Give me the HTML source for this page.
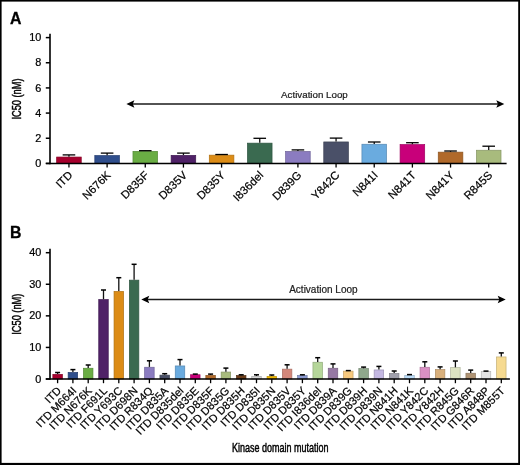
<!DOCTYPE html>
<html><head><meta charset="utf-8"><style>
html,body{margin:0;padding:0;background:#fff;}
svg{display:block;font-family:"Liberation Sans", sans-serif;will-change:transform;}
text{stroke:#000;stroke-width:0.22px;}
text.al{stroke:#222;}
text.t{stroke-width:0.45px;}
text.nb{stroke-width:0.3px;}
</style></head><body>
<svg width="520" height="465" viewBox="0 0 520 465">
<rect x="0" y="0" width="520" height="1.6" fill="#000"/><rect x="0" y="0" width="1.6" height="465" fill="#000"/><rect x="518.2" y="0" width="1.8" height="465" fill="#000"/><rect x="0" y="462.9" width="520" height="2.1" fill="#000"/>
<rect x="56.65" y="157.05" width="24.6" height="6.35" fill="#a6002d" stroke="#840024" stroke-width="0.7"/>
<line x1="68.95" y1="154.9" x2="68.95" y2="156.7" stroke="#111" stroke-width="1.3"/>
<line x1="62.65" y1="154.9" x2="75.25" y2="154.9" stroke="#000" stroke-width="1.3"/>
<line x1="68.95" y1="163.4" x2="68.95" y2="167.6" stroke="#000" stroke-width="1.3"/>
<text transform="translate(73.25,175.8) rotate(-45)" text-anchor="end" font-size="11.3">ITD</text>
<rect x="94.81" y="155.55" width="24.6" height="7.85" fill="#2f4e8c" stroke="#253e70" stroke-width="0.7"/>
<line x1="107.11" y1="153.1" x2="107.11" y2="155.2" stroke="#111" stroke-width="1.3"/>
<line x1="100.81" y1="153.1" x2="113.41" y2="153.1" stroke="#000" stroke-width="1.3"/>
<line x1="107.11" y1="163.4" x2="107.11" y2="167.6" stroke="#000" stroke-width="1.3"/>
<text transform="translate(111.41,175.8) rotate(-45)" text-anchor="end" font-size="11.3">N676K</text>
<rect x="132.97" y="151.35" width="24.6" height="12.05" fill="#6aad44" stroke="#548a36" stroke-width="0.7"/>
<line x1="145.27" y1="150.7" x2="145.27" y2="151" stroke="#111" stroke-width="1.3"/>
<line x1="138.97" y1="150.7" x2="151.57" y2="150.7" stroke="#000" stroke-width="1.3"/>
<line x1="145.27" y1="163.4" x2="145.27" y2="167.6" stroke="#000" stroke-width="1.3"/>
<text transform="translate(149.57,175.8) rotate(-45)" text-anchor="end" font-size="11.3">D835F</text>
<rect x="171.13" y="155.35" width="24.6" height="8.05" fill="#4f2167" stroke="#3f1a52" stroke-width="0.7"/>
<line x1="183.43" y1="153.1" x2="183.43" y2="155" stroke="#111" stroke-width="1.3"/>
<line x1="177.13" y1="153.1" x2="189.73" y2="153.1" stroke="#000" stroke-width="1.3"/>
<line x1="183.43" y1="163.4" x2="183.43" y2="167.6" stroke="#000" stroke-width="1.3"/>
<text transform="translate(187.73,175.8) rotate(-45)" text-anchor="end" font-size="11.3">D835V</text>
<rect x="209.29" y="155.15" width="24.6" height="8.25" fill="#dc8c16" stroke="#b07011" stroke-width="0.7"/>
<line x1="221.59" y1="154.5" x2="221.59" y2="154.8" stroke="#111" stroke-width="1.3"/>
<line x1="215.29" y1="154.5" x2="227.89" y2="154.5" stroke="#000" stroke-width="1.3"/>
<line x1="221.59" y1="163.4" x2="221.59" y2="167.6" stroke="#000" stroke-width="1.3"/>
<text transform="translate(225.89,175.8) rotate(-45)" text-anchor="end" font-size="11.3">D835Y</text>
<rect x="247.45" y="143.15" width="24.6" height="20.25" fill="#3a6a50" stroke="#2e5440" stroke-width="0.7"/>
<line x1="259.75" y1="138.3" x2="259.75" y2="142.8" stroke="#111" stroke-width="1.3"/>
<line x1="253.45" y1="138.3" x2="266.05" y2="138.3" stroke="#000" stroke-width="1.3"/>
<line x1="259.75" y1="163.4" x2="259.75" y2="167.6" stroke="#000" stroke-width="1.3"/>
<text transform="translate(264.05,175.8) rotate(-45)" text-anchor="end" font-size="11.3">I836del</text>
<rect x="285.61" y="151.45" width="24.6" height="11.95" fill="#8b7cc0" stroke="#6f6399" stroke-width="0.7"/>
<line x1="297.91" y1="149.9" x2="297.91" y2="151.1" stroke="#111" stroke-width="1.3"/>
<line x1="291.61" y1="149.9" x2="304.21" y2="149.9" stroke="#000" stroke-width="1.3"/>
<line x1="297.91" y1="163.4" x2="297.91" y2="167.6" stroke="#000" stroke-width="1.3"/>
<text transform="translate(302.21,175.8) rotate(-45)" text-anchor="end" font-size="11.3">D839G</text>
<rect x="323.77" y="141.95" width="24.6" height="21.45" fill="#4a5068" stroke="#3b4053" stroke-width="0.7"/>
<line x1="336.07" y1="138.1" x2="336.07" y2="141.6" stroke="#111" stroke-width="1.3"/>
<line x1="329.77" y1="138.1" x2="342.37" y2="138.1" stroke="#000" stroke-width="1.3"/>
<line x1="336.07" y1="163.4" x2="336.07" y2="167.6" stroke="#000" stroke-width="1.3"/>
<text transform="translate(340.37,175.8) rotate(-45)" text-anchor="end" font-size="11.3">Y842C</text>
<rect x="361.93" y="144.25" width="24.6" height="19.15" fill="#6aabdf" stroke="#5488b2" stroke-width="0.7"/>
<line x1="374.23" y1="142" x2="374.23" y2="143.9" stroke="#111" stroke-width="1.3"/>
<line x1="367.93" y1="142" x2="380.53" y2="142" stroke="#000" stroke-width="1.3"/>
<line x1="374.23" y1="163.4" x2="374.23" y2="167.6" stroke="#000" stroke-width="1.3"/>
<text transform="translate(378.53,175.8) rotate(-45)" text-anchor="end" font-size="11.3">N841I</text>
<rect x="400.09" y="144.55" width="24.6" height="18.85" fill="#c8007a" stroke="#a00061" stroke-width="0.7"/>
<line x1="412.39" y1="142.7" x2="412.39" y2="144.2" stroke="#111" stroke-width="1.3"/>
<line x1="406.09" y1="142.7" x2="418.69" y2="142.7" stroke="#000" stroke-width="1.3"/>
<line x1="412.39" y1="163.4" x2="412.39" y2="167.6" stroke="#000" stroke-width="1.3"/>
<text transform="translate(416.69,175.8) rotate(-45)" text-anchor="end" font-size="11.3">N841T</text>
<rect x="438.25" y="152.15" width="24.6" height="11.25" fill="#b0692a" stroke="#8c5421" stroke-width="0.7"/>
<line x1="450.55" y1="151" x2="450.55" y2="151.8" stroke="#111" stroke-width="1.3"/>
<line x1="444.25" y1="151" x2="456.85" y2="151" stroke="#000" stroke-width="1.3"/>
<line x1="450.55" y1="163.4" x2="450.55" y2="167.6" stroke="#000" stroke-width="1.3"/>
<text transform="translate(454.85,175.8) rotate(-45)" text-anchor="end" font-size="11.3">N841Y</text>
<rect x="476.41" y="150.25" width="24.6" height="13.15" fill="#a8bb7d" stroke="#869564" stroke-width="0.7"/>
<line x1="488.71" y1="146.2" x2="488.71" y2="149.9" stroke="#111" stroke-width="1.3"/>
<line x1="482.41" y1="146.2" x2="495.01" y2="146.2" stroke="#000" stroke-width="1.3"/>
<line x1="488.71" y1="163.4" x2="488.71" y2="167.6" stroke="#000" stroke-width="1.3"/>
<text transform="translate(493.01,175.8) rotate(-45)" text-anchor="end" font-size="11.3">R845S</text>
<line x1="50" y1="33.7" x2="50" y2="164.2" stroke="#000" stroke-width="1.6"/>
<line x1="45.8" y1="163.4" x2="506.6" y2="163.4" stroke="#000" stroke-width="1.5"/>
<line x1="45.8" y1="163.4" x2="50" y2="163.4" stroke="#000" stroke-width="1.5"/>
<text transform="translate(41.3,167) scale(1.09,1)" text-anchor="end" font-size="10">0</text>
<line x1="45.8" y1="138.24" x2="50" y2="138.24" stroke="#000" stroke-width="1.5"/>
<text transform="translate(41.3,141.84) scale(1.09,1)" text-anchor="end" font-size="10">2</text>
<line x1="45.8" y1="113.08" x2="50" y2="113.08" stroke="#000" stroke-width="1.5"/>
<text transform="translate(41.3,116.68) scale(1.09,1)" text-anchor="end" font-size="10">4</text>
<line x1="45.8" y1="87.92" x2="50" y2="87.92" stroke="#000" stroke-width="1.5"/>
<text transform="translate(41.3,91.52) scale(1.09,1)" text-anchor="end" font-size="10">6</text>
<line x1="45.8" y1="62.76" x2="50" y2="62.76" stroke="#000" stroke-width="1.5"/>
<text transform="translate(41.3,66.36) scale(1.09,1)" text-anchor="end" font-size="10">8</text>
<line x1="45.8" y1="37.6" x2="50" y2="37.6" stroke="#000" stroke-width="1.5"/>
<text transform="translate(41.3,41.2) scale(1.09,1)" text-anchor="end" font-size="10">10</text>
<text transform="translate(9.9,23.5) scale(0.96,1)" font-size="16.5" font-weight="bold" class="nb">A</text>
<text transform="translate(21.3,99) rotate(-90) scale(0.77,1)" text-anchor="middle" font-size="12" class="t">IC50 (nM)</text>
<line x1="129.4" y1="104" x2="501.3" y2="104" stroke="#1a1a1a" stroke-width="1.4"/>
<path d="M126.4,104 L134.4,100.2 L132.8,104 L134.4,107.8 Z" fill="#000"/>
<path d="M504.3,104 L496.3,100.2 L497.9,104 L496.3,107.8 Z" fill="#000"/>
<text x="281.1" y="97.5" font-size="9.75" fill="#222" class="al">Activation Loop</text>
<rect x="52.85" y="374.35" width="9.5" height="4.65" fill="#a6002d" stroke="#840024" stroke-width="0.7"/>
<line x1="57.6" y1="372.5" x2="57.6" y2="374" stroke="#111" stroke-width="1.3"/>
<line x1="55.1" y1="372.5" x2="60.1" y2="372.5" stroke="#000" stroke-width="1.5"/>
<line x1="57.6" y1="379" x2="57.6" y2="383.2" stroke="#000" stroke-width="1.3"/>
<text transform="translate(61.9,391.4) rotate(-45)" text-anchor="end" font-size="11.1">ITD</text>
<rect x="68.15" y="372.45" width="9.5" height="6.55" fill="#2f4e8c" stroke="#253e70" stroke-width="0.7"/>
<line x1="72.9" y1="369.6" x2="72.9" y2="372.1" stroke="#111" stroke-width="1.3"/>
<line x1="70.4" y1="369.6" x2="75.4" y2="369.6" stroke="#000" stroke-width="1.5"/>
<line x1="72.9" y1="379" x2="72.9" y2="383.2" stroke="#000" stroke-width="1.3"/>
<text transform="translate(77.2,391.4) rotate(-45)" text-anchor="end" font-size="11.1">ITD M664I</text>
<rect x="83.45" y="368.25" width="9.5" height="10.75" fill="#6aad44" stroke="#548a36" stroke-width="0.7"/>
<line x1="88.2" y1="365" x2="88.2" y2="367.9" stroke="#111" stroke-width="1.3"/>
<line x1="85.7" y1="365" x2="90.7" y2="365" stroke="#000" stroke-width="1.5"/>
<line x1="88.2" y1="379" x2="88.2" y2="383.2" stroke="#000" stroke-width="1.3"/>
<text transform="translate(92.5,391.4) rotate(-45)" text-anchor="end" font-size="11.1">ITD N676K</text>
<rect x="98.75" y="299.55" width="9.5" height="79.45" fill="#4f2167" stroke="#3f1a52" stroke-width="0.7"/>
<line x1="103.5" y1="290" x2="103.5" y2="299.2" stroke="#111" stroke-width="1.3"/>
<line x1="101" y1="290" x2="106" y2="290" stroke="#000" stroke-width="1.5"/>
<line x1="103.5" y1="379" x2="103.5" y2="383.2" stroke="#000" stroke-width="1.3"/>
<text transform="translate(107.8,391.4) rotate(-45)" text-anchor="end" font-size="11.1">ITD F691L</text>
<rect x="114.05" y="291.45" width="9.5" height="87.55" fill="#dc8c16" stroke="#b07011" stroke-width="0.7"/>
<line x1="118.8" y1="277.7" x2="118.8" y2="291.1" stroke="#111" stroke-width="1.3"/>
<line x1="116.3" y1="277.7" x2="121.3" y2="277.7" stroke="#000" stroke-width="1.5"/>
<line x1="118.8" y1="379" x2="118.8" y2="383.2" stroke="#000" stroke-width="1.3"/>
<text transform="translate(123.1,391.4) rotate(-45)" text-anchor="end" font-size="11.1">ITD Y693C</text>
<rect x="129.35" y="280.15" width="9.5" height="98.85" fill="#3a6a50" stroke="#2e5440" stroke-width="0.7"/>
<line x1="134.1" y1="264.3" x2="134.1" y2="279.8" stroke="#111" stroke-width="1.3"/>
<line x1="131.6" y1="264.3" x2="136.6" y2="264.3" stroke="#000" stroke-width="1.5"/>
<line x1="134.1" y1="379" x2="134.1" y2="383.2" stroke="#000" stroke-width="1.3"/>
<text transform="translate(138.4,391.4) rotate(-45)" text-anchor="end" font-size="11.1">ITD D698N</text>
<rect x="144.65" y="367.25" width="9.5" height="11.75" fill="#8b7cc0" stroke="#6f6399" stroke-width="0.7"/>
<line x1="149.4" y1="360.8" x2="149.4" y2="366.9" stroke="#111" stroke-width="1.3"/>
<line x1="146.9" y1="360.8" x2="151.9" y2="360.8" stroke="#000" stroke-width="1.5"/>
<line x1="149.4" y1="379" x2="149.4" y2="383.2" stroke="#000" stroke-width="1.3"/>
<text transform="translate(153.7,391.4) rotate(-45)" text-anchor="end" font-size="11.1">ITD R834Q</text>
<rect x="159.95" y="375.15" width="9.5" height="3.85" fill="#4a5068" stroke="#3b4053" stroke-width="0.7"/>
<line x1="164.7" y1="373.7" x2="164.7" y2="374.8" stroke="#111" stroke-width="1.3"/>
<line x1="162.2" y1="373.7" x2="167.2" y2="373.7" stroke="#000" stroke-width="1.5"/>
<line x1="164.7" y1="379" x2="164.7" y2="383.2" stroke="#000" stroke-width="1.3"/>
<text transform="translate(169,391.4) rotate(-45)" text-anchor="end" font-size="11.1">ITD D835A</text>
<rect x="175.25" y="365.95" width="9.5" height="13.05" fill="#6aabdf" stroke="#5488b2" stroke-width="0.7"/>
<line x1="180" y1="359.6" x2="180" y2="365.6" stroke="#111" stroke-width="1.3"/>
<line x1="177.5" y1="359.6" x2="182.5" y2="359.6" stroke="#000" stroke-width="1.5"/>
<line x1="180" y1="379" x2="180" y2="383.2" stroke="#000" stroke-width="1.3"/>
<text transform="translate(184.3,391.4) rotate(-45)" text-anchor="end" font-size="11.1">ITD D835del</text>
<rect x="190.55" y="374.75" width="9.5" height="4.25" fill="#c8007a" stroke="#a00061" stroke-width="0.7"/>
<line x1="195.3" y1="374.1" x2="195.3" y2="374.4" stroke="#111" stroke-width="1.3"/>
<line x1="192.8" y1="374.1" x2="197.8" y2="374.1" stroke="#000" stroke-width="1.5"/>
<line x1="195.3" y1="379" x2="195.3" y2="383.2" stroke="#000" stroke-width="1.3"/>
<text transform="translate(199.6,391.4) rotate(-45)" text-anchor="end" font-size="11.1">ITD D835E</text>
<rect x="205.85" y="375.35" width="9.5" height="3.65" fill="#b0692a" stroke="#8c5421" stroke-width="0.7"/>
<line x1="210.6" y1="374.1" x2="210.6" y2="375" stroke="#111" stroke-width="1.3"/>
<line x1="208.1" y1="374.1" x2="213.1" y2="374.1" stroke="#000" stroke-width="1.5"/>
<line x1="210.6" y1="379" x2="210.6" y2="383.2" stroke="#000" stroke-width="1.3"/>
<text transform="translate(214.9,391.4) rotate(-45)" text-anchor="end" font-size="11.1">ITD D835F</text>
<rect x="221.15" y="372.05" width="9.5" height="6.95" fill="#a8bb7d" stroke="#869564" stroke-width="0.7"/>
<line x1="225.9" y1="368.1" x2="225.9" y2="371.7" stroke="#111" stroke-width="1.3"/>
<line x1="223.4" y1="368.1" x2="228.4" y2="368.1" stroke="#000" stroke-width="1.5"/>
<line x1="225.9" y1="379" x2="225.9" y2="383.2" stroke="#000" stroke-width="1.3"/>
<text transform="translate(230.2,391.4) rotate(-45)" text-anchor="end" font-size="11.1">ITD D835G</text>
<rect x="236.45" y="375.55" width="9.5" height="3.45" fill="#6b3d1a" stroke="#553014" stroke-width="0.7"/>
<line x1="241.2" y1="374.8" x2="241.2" y2="375.2" stroke="#111" stroke-width="1.3"/>
<line x1="238.7" y1="374.8" x2="243.7" y2="374.8" stroke="#000" stroke-width="1.5"/>
<line x1="241.2" y1="379" x2="241.2" y2="383.2" stroke="#000" stroke-width="1.3"/>
<text transform="translate(245.5,391.4) rotate(-45)" text-anchor="end" font-size="11.1">ITD D835H</text>
<rect x="251.75" y="376.35" width="9.5" height="2.65" fill="#d8d8d8" stroke="#acacac" stroke-width="0.7"/>
<line x1="256.5" y1="374.8" x2="256.5" y2="376" stroke="#111" stroke-width="1.3"/>
<line x1="254" y1="374.8" x2="259" y2="374.8" stroke="#000" stroke-width="1.5"/>
<line x1="256.5" y1="379" x2="256.5" y2="383.2" stroke="#000" stroke-width="1.3"/>
<text transform="translate(260.8,391.4) rotate(-45)" text-anchor="end" font-size="11.1">ITD D835I</text>
<rect x="267.05" y="376.35" width="9.5" height="2.65" fill="#f0b800" stroke="#c09300" stroke-width="0.7"/>
<line x1="271.8" y1="375" x2="271.8" y2="376" stroke="#111" stroke-width="1.3"/>
<line x1="269.3" y1="375" x2="274.3" y2="375" stroke="#000" stroke-width="1.5"/>
<line x1="271.8" y1="379" x2="271.8" y2="383.2" stroke="#000" stroke-width="1.3"/>
<text transform="translate(276.1,391.4) rotate(-45)" text-anchor="end" font-size="11.1">ITD D835N</text>
<rect x="282.35" y="369.15" width="9.5" height="9.85" fill="#d4877a" stroke="#a96c61" stroke-width="0.7"/>
<line x1="287.1" y1="364.8" x2="287.1" y2="368.8" stroke="#111" stroke-width="1.3"/>
<line x1="284.6" y1="364.8" x2="289.6" y2="364.8" stroke="#000" stroke-width="1.5"/>
<line x1="287.1" y1="379" x2="287.1" y2="383.2" stroke="#000" stroke-width="1.3"/>
<text transform="translate(291.4,391.4) rotate(-45)" text-anchor="end" font-size="11.1">ITD D835V</text>
<rect x="297.65" y="375.55" width="9.5" height="3.45" fill="#8c9ad0" stroke="#707ba6" stroke-width="0.7"/>
<line x1="302.4" y1="374.8" x2="302.4" y2="375.2" stroke="#111" stroke-width="1.3"/>
<line x1="299.9" y1="374.8" x2="304.9" y2="374.8" stroke="#000" stroke-width="1.5"/>
<line x1="302.4" y1="379" x2="302.4" y2="383.2" stroke="#000" stroke-width="1.3"/>
<text transform="translate(306.7,391.4) rotate(-45)" text-anchor="end" font-size="11.1">ITD D835Y</text>
<rect x="312.95" y="362.25" width="9.5" height="16.75" fill="#b5d69a" stroke="#90ab7b" stroke-width="0.7"/>
<line x1="317.7" y1="357.7" x2="317.7" y2="361.9" stroke="#111" stroke-width="1.3"/>
<line x1="315.2" y1="357.7" x2="320.2" y2="357.7" stroke="#000" stroke-width="1.5"/>
<line x1="317.7" y1="379" x2="317.7" y2="383.2" stroke="#000" stroke-width="1.3"/>
<text transform="translate(322,391.4) rotate(-45)" text-anchor="end" font-size="11.1">ITD I836del</text>
<rect x="328.25" y="368.25" width="9.5" height="10.75" fill="#9678a4" stroke="#786083" stroke-width="0.7"/>
<line x1="333" y1="363.9" x2="333" y2="367.9" stroke="#111" stroke-width="1.3"/>
<line x1="330.5" y1="363.9" x2="335.5" y2="363.9" stroke="#000" stroke-width="1.5"/>
<line x1="333" y1="379" x2="333" y2="383.2" stroke="#000" stroke-width="1.3"/>
<text transform="translate(337.3,391.4) rotate(-45)" text-anchor="end" font-size="11.1">ITD D839A</text>
<rect x="343.55" y="371.15" width="9.5" height="7.85" fill="#f6c87e" stroke="#c4a064" stroke-width="0.7"/>
<line x1="348.3" y1="370.6" x2="348.3" y2="370.8" stroke="#111" stroke-width="1.3"/>
<line x1="345.8" y1="370.6" x2="350.8" y2="370.6" stroke="#000" stroke-width="1.5"/>
<line x1="348.3" y1="379" x2="348.3" y2="383.2" stroke="#000" stroke-width="1.3"/>
<text transform="translate(352.6,391.4) rotate(-45)" text-anchor="end" font-size="11.1">ITD D839G</text>
<rect x="358.85" y="368.65" width="9.5" height="10.35" fill="#8fa88c" stroke="#728670" stroke-width="0.7"/>
<line x1="363.6" y1="367.1" x2="363.6" y2="368.3" stroke="#111" stroke-width="1.3"/>
<line x1="361.1" y1="367.1" x2="366.1" y2="367.1" stroke="#000" stroke-width="1.5"/>
<line x1="363.6" y1="379" x2="363.6" y2="383.2" stroke="#000" stroke-width="1.3"/>
<text transform="translate(367.9,391.4) rotate(-45)" text-anchor="end" font-size="11.1">ITD D839H</text>
<rect x="374.15" y="369.95" width="9.5" height="9.05" fill="#c4b8e2" stroke="#9c93b4" stroke-width="0.7"/>
<line x1="378.9" y1="366.4" x2="378.9" y2="369.6" stroke="#111" stroke-width="1.3"/>
<line x1="376.4" y1="366.4" x2="381.4" y2="366.4" stroke="#000" stroke-width="1.5"/>
<line x1="378.9" y1="379" x2="378.9" y2="383.2" stroke="#000" stroke-width="1.3"/>
<text transform="translate(383.2,391.4) rotate(-45)" text-anchor="end" font-size="11.1">ITD D839N</text>
<rect x="389.45" y="373.45" width="9.5" height="5.55" fill="#a0a0ac" stroke="#808089" stroke-width="0.7"/>
<line x1="394.2" y1="371" x2="394.2" y2="373.1" stroke="#111" stroke-width="1.3"/>
<line x1="391.7" y1="371" x2="396.7" y2="371" stroke="#000" stroke-width="1.5"/>
<line x1="394.2" y1="379" x2="394.2" y2="383.2" stroke="#000" stroke-width="1.3"/>
<text transform="translate(398.5,391.4) rotate(-45)" text-anchor="end" font-size="11.1">ITD N841H</text>
<rect x="404.75" y="375.35" width="9.5" height="3.65" fill="#bcdcf8" stroke="#96b0c6" stroke-width="0.7"/>
<line x1="409.5" y1="374.6" x2="409.5" y2="375" stroke="#111" stroke-width="1.3"/>
<line x1="407" y1="374.6" x2="412" y2="374.6" stroke="#000" stroke-width="1.5"/>
<line x1="409.5" y1="379" x2="409.5" y2="383.2" stroke="#000" stroke-width="1.3"/>
<text transform="translate(413.8,391.4) rotate(-45)" text-anchor="end" font-size="11.1">ITD N841K</text>
<rect x="420.05" y="367.25" width="9.5" height="11.75" fill="#da90c4" stroke="#ae739c" stroke-width="0.7"/>
<line x1="424.8" y1="361.8" x2="424.8" y2="366.9" stroke="#111" stroke-width="1.3"/>
<line x1="422.3" y1="361.8" x2="427.3" y2="361.8" stroke="#000" stroke-width="1.5"/>
<line x1="424.8" y1="379" x2="424.8" y2="383.2" stroke="#000" stroke-width="1.3"/>
<text transform="translate(429.1,391.4) rotate(-45)" text-anchor="end" font-size="11.1">ITD Y842C</text>
<rect x="435.35" y="369.65" width="9.5" height="9.35" fill="#d9b07c" stroke="#ad8c63" stroke-width="0.7"/>
<line x1="440.1" y1="366.9" x2="440.1" y2="369.3" stroke="#111" stroke-width="1.3"/>
<line x1="437.6" y1="366.9" x2="442.6" y2="366.9" stroke="#000" stroke-width="1.5"/>
<line x1="440.1" y1="379" x2="440.1" y2="383.2" stroke="#000" stroke-width="1.3"/>
<text transform="translate(444.4,391.4) rotate(-45)" text-anchor="end" font-size="11.1">ITD Y842H</text>
<rect x="450.65" y="367.65" width="9.5" height="11.35" fill="#dde3c2" stroke="#b0b59b" stroke-width="0.7"/>
<line x1="455.4" y1="361" x2="455.4" y2="367.3" stroke="#111" stroke-width="1.3"/>
<line x1="452.9" y1="361" x2="457.9" y2="361" stroke="#000" stroke-width="1.5"/>
<line x1="455.4" y1="379" x2="455.4" y2="383.2" stroke="#000" stroke-width="1.3"/>
<text transform="translate(459.7,391.4) rotate(-45)" text-anchor="end" font-size="11.1">ITD R845G</text>
<rect x="465.95" y="373.25" width="9.5" height="5.75" fill="#b09474" stroke="#8c765c" stroke-width="0.7"/>
<line x1="470.7" y1="370.1" x2="470.7" y2="372.9" stroke="#111" stroke-width="1.3"/>
<line x1="468.2" y1="370.1" x2="473.2" y2="370.1" stroke="#000" stroke-width="1.5"/>
<line x1="470.7" y1="379" x2="470.7" y2="383.2" stroke="#000" stroke-width="1.3"/>
<text transform="translate(475,391.4) rotate(-45)" text-anchor="end" font-size="11.1">ITD G846R</text>
<rect x="481.25" y="371.65" width="9.5" height="7.35" fill="#e4e4e4" stroke="#b6b6b6" stroke-width="0.7"/>
<line x1="486" y1="371.1" x2="486" y2="371.3" stroke="#111" stroke-width="1.3"/>
<line x1="483.5" y1="371.1" x2="488.5" y2="371.1" stroke="#000" stroke-width="1.5"/>
<line x1="486" y1="379" x2="486" y2="383.2" stroke="#000" stroke-width="1.3"/>
<text transform="translate(490.3,391.4) rotate(-45)" text-anchor="end" font-size="11.1">ITD A848P</text>
<rect x="496.55" y="356.95" width="9.5" height="22.05" fill="#f6da90" stroke="#c4ae73" stroke-width="0.7"/>
<line x1="501.3" y1="352.9" x2="501.3" y2="356.6" stroke="#111" stroke-width="1.3"/>
<line x1="498.8" y1="352.9" x2="503.8" y2="352.9" stroke="#000" stroke-width="1.5"/>
<line x1="501.3" y1="379" x2="501.3" y2="383.2" stroke="#000" stroke-width="1.3"/>
<text transform="translate(505.6,391.4) rotate(-45)" text-anchor="end" font-size="11.1">ITD M855T</text>
<line x1="50" y1="248.8" x2="50" y2="379.8" stroke="#000" stroke-width="1.6"/>
<line x1="45.8" y1="379" x2="509.9" y2="379" stroke="#000" stroke-width="1.5"/>
<line x1="45.8" y1="379" x2="50" y2="379" stroke="#000" stroke-width="1.5"/>
<text transform="translate(41.3,382.6) scale(1.09,1)" text-anchor="end" font-size="10">0</text>
<line x1="45.8" y1="347.43" x2="50" y2="347.43" stroke="#000" stroke-width="1.5"/>
<text transform="translate(41.3,351.03) scale(1.09,1)" text-anchor="end" font-size="10">10</text>
<line x1="45.8" y1="315.85" x2="50" y2="315.85" stroke="#000" stroke-width="1.5"/>
<text transform="translate(41.3,319.45) scale(1.09,1)" text-anchor="end" font-size="10">20</text>
<line x1="45.8" y1="284.27" x2="50" y2="284.27" stroke="#000" stroke-width="1.5"/>
<text transform="translate(41.3,287.88) scale(1.09,1)" text-anchor="end" font-size="10">30</text>
<line x1="45.8" y1="252.7" x2="50" y2="252.7" stroke="#000" stroke-width="1.5"/>
<text transform="translate(41.3,256.3) scale(1.09,1)" text-anchor="end" font-size="10">40</text>
<text transform="translate(9.9,238.4) scale(0.96,1)" font-size="16.5" font-weight="bold" class="nb">B</text>
<text transform="translate(21.3,314.2) rotate(-90) scale(0.77,1)" text-anchor="middle" font-size="12" class="t">IC50 (nM)</text>
<line x1="144.3" y1="299.5" x2="502.7" y2="299.5" stroke="#1a1a1a" stroke-width="1.4"/>
<path d="M141.3,299.5 L149.3,295.7 L147.7,299.5 L149.3,303.3 Z" fill="#000"/>
<path d="M505.7,299.5 L497.7,295.7 L499.3,299.5 L497.7,303.3 Z" fill="#000"/>
<text x="289.2" y="292.9" font-size="10" fill="#222" class="al">Activation Loop</text>
<text transform="translate(280.2,451.6) scale(0.75,1)" text-anchor="middle" font-size="12" class="t">Kinase domain mutation</text>
</svg>
</body></html>
